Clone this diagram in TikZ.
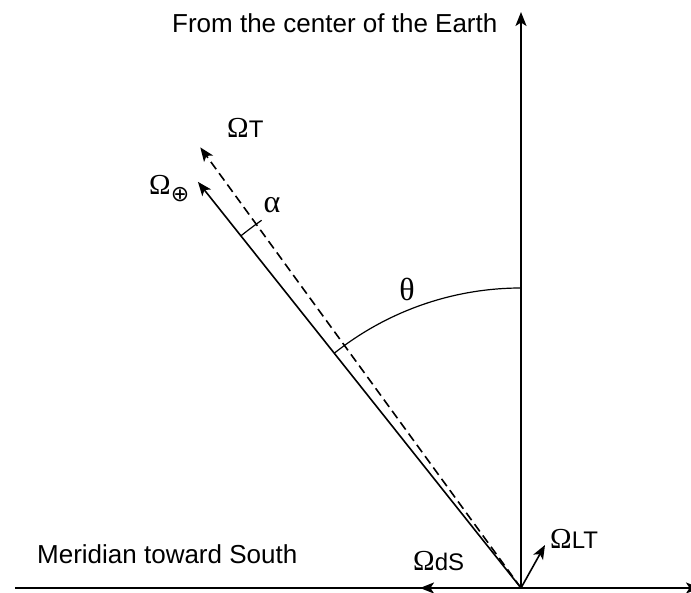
\documentclass[tikz,border=0pt]{standalone}
\usepackage{fontspec}
\setmainfont{Liberation Sans}
\newfontfamily\grk{Liberation Serif}
\newfontfamily\symf{DejaVu Sans}
\usetikzlibrary{arrows.meta,calc}
\newcommand\OmG{{\grk\fontsize{29}{32}\selectfont Ω}}
\newcommand\subtx[1]{{\fontsize{24}{28}\selectfont #1}}
\begin{document}
\begin{tikzpicture}[x=1pt,y=1pt,
  ln/.style={line width=1.6pt},
  arr/.style={ln,-{Stealth[length=14pt,width=11pt,inset=3.5pt]}},
  lbl/.style={inner sep=0pt,anchor=base west,font=\fontsize{26}{30}\selectfont},
  om/.style={inner sep=0pt,anchor=base west},
  greek/.style={inner sep=0pt,font=\grk\fontsize{32}{36}\selectfont},
  arcln/.style={line width=1.2pt}]
\useasboundingbox (0,0) rectangle (691,592);
\coordinate (O) at (521,4);
\coordinate (up) at (521,580);
\coordinate (left) at (15,4);
\coordinate (right) at (700,4);
\coordinate (dS) at (420,4);
\coordinate (LT) at (545,47);
\coordinate (earth) at ($(O)+(128.5:519)$);
\coordinate (tot) at ($(O)+(126.05:545)$);
\draw[ln] (left) -- (O);
\draw[arr] (O) -- (right);
\draw[arr] (O) -- (up);
\draw[arr] (O) -- (dS);
\draw[arr] (O) -- (LT);
\draw[arr] (O) -- (earth);
\draw[arr,dash pattern=on 9pt off 5pt] (O) -- (tot);
\draw[arcln] ($(O)+(90:300)$) arc[start angle=90,end angle=128.5,radius=300];
\draw[arcln] ($(O)+(128.5:450)$) arc[start angle=128.5,end angle=125.2,radius=450];
\node[lbl] (t1) at (172,559) {From the center of the Earth};
\node[lbl] (t2) at (37,29) {Meridian toward South};
\node[om] (oT) at (227,454) {\OmG\subtx{T}};
\node[om] (oE) at (149,397) {\OmG\raisebox{-7pt}{\symf\fontsize{22}{24}\selectfont ⊕}};
\node[om] (oLT) at (550,44) {\OmG\subtx{LT}};
\node[om] (odS) at (413,22) {\OmG\subtx{dS}};
\node[greek] (al) at (272,387) {α};
\node[greek] (th) at (407,303) {θ};
\end{tikzpicture}
\end{document}
